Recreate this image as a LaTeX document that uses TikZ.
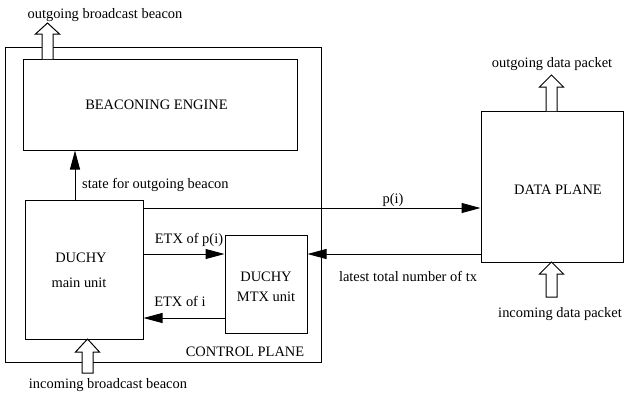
\documentclass[tikz,border=0pt]{standalone}
\usepackage{fontspec}
\setmainfont{Liberation Serif}
\usetikzlibrary{arrows.meta}
\begin{document}
\begin{tikzpicture}[x=1bp,y=-1bp,
  box/.style={draw,line width=1bp,inner sep=0,minimum width=#1},
  txt/.style={anchor=base,inner sep=0,font=\fontsize{14.5}{17}\selectfont},
  arr/.style={line width=1bp,-{Triangle[length=19bp,width=10bp]}},
  hollow/.style={draw,line width=1bp,fill=white}]
\useasboundingbox (0,0) rectangle (624,392);
% boxes
\node[box=315bp,minimum height=315bp] (cp) at (163.5,204.5) {};
\node[box=273bp,minimum height=91bp] (be) at (160.5,104.5) {};
\node[box=117bp,minimum height=139bp] (main) at (84.5,269.5) {};
\node[box=82bp,minimum height=98bp] (mtx) at (266,284) {};
\node[box=142bp,minimum height=151bp] (dp) at (552,186.5) {};
% box texts
\node[txt] (tbe) at (156.5,109) {BEACONING ENGINE};
\node[txt] (tm1) at (81,262) {DUCHY};
\node[txt] (tm2) at (79,287) {main unit};
\node[txt] (tx1) at (266,281) {DUCHY};
\node[txt] (tx2) at (266,301) {MTX unit};
\node[txt] (tdp) at (558,194) {DATA PLANE};
\node[txt] (tcp) at (245,356) {CONTROL PLANE};
% connectors
\coordinate (ystate) at (75,0);
\draw[arr] (main.north -| ystate) -- (be.south -| ystate);
\node[txt,anchor=base west] (lstate) at (82,188) {state for outgoing beacon};
\coordinate (ypi) at (0,208);
\draw[arr] (main.east |- ypi) -- (dp.west |- ypi);
\node[txt] (lpi) at (393,203) {p(i)};
\coordinate (yetxp) at (0,254);
\draw[arr] (main.east |- yetxp) -- (mtx.west |- yetxp);
\node[txt] (letxp) at (189,243) {ETX of p(i)};
\coordinate (yetxi) at (0,318);
\draw[arr] (mtx.west |- yetxi) -- (main.east |- yetxi);
\node[txt] (letxi) at (180,306) {ETX of i};
\coordinate (ylat) at (0,254);
\draw[arr] (dp.west |- ylat) -- (mtx.east |- ylat);
\node[txt] (llat) at (408,281) {latest total number of tx};
% hollow arrows
\draw[hollow] (42,59) -- (42,34) -- (35.5,34) -- (47.5,23) -- (59.5,34) -- (53,34) -- (53,59);
\node[txt] (lob) at (105,18) {outgoing broadcast beacon};
\draw[hollow] (546,111) -- (546,87) -- (539.5,87) -- (551.5,75) -- (563.5,87) -- (557,87) -- (557,111);
\node[txt] (lod) at (552,67) {outgoing data packet};
\draw[hollow] (546,297) -- (546,274) -- (539.5,274) -- (551.5,262) -- (563.5,274) -- (557,274) -- (557,297) -- cycle;
\node[txt] (lid) at (560,317) {incoming data packet};
\draw[hollow] (82,373) -- (82,352) -- (75.5,352) -- (87.5,339) -- (99.5,352) -- (93,352) -- (93,373) -- cycle;
\node[txt] (lib) at (108,388) {incoming broadcast beacon};
\end{tikzpicture}
\end{document}
